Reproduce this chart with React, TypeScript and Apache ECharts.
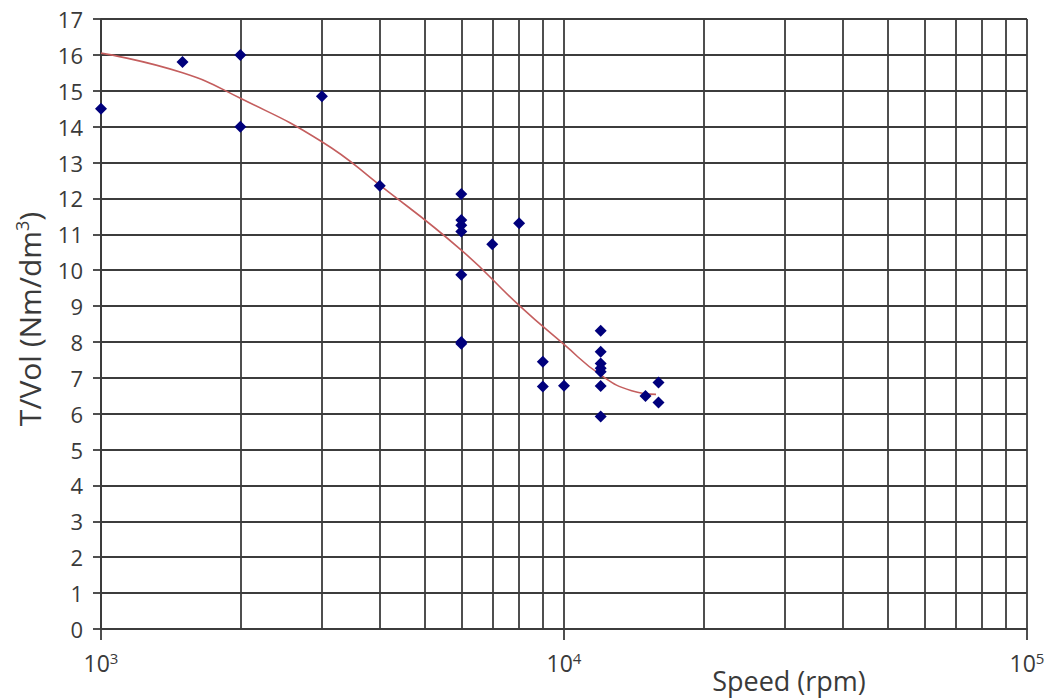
import React, { useEffect, useRef } from "react";
import * as echarts from "echarts";

// Measured points: speed (rpm) and torque per volume (Nm/dm^3)
const pointSpeeds = [
  1000, 1500, 2000, 2000, 3000, 4000,
  6000, 6000, 6000, 6000, 6000, 6000, 6000,
  7000, 8000, 9000, 9000, 10000,
  12000, 12000, 12000, 12000, 12000, 12000, 12000,
  15000, 16000, 16000,
];
const pointTorques = [
  14.5, 15.8, 16.0, 14.0, 14.85, 12.35,
  12.12, 11.4, 11.25, 11.08, 9.87, 8.0, 7.95,
  10.72, 11.31, 7.45, 6.76, 6.78,
  8.31, 7.73, 7.4, 7.27, 7.17, 6.77, 5.92,
  6.49, 6.87, 6.31,
];

// Trend curve
const curveSpeeds = [1000, 1500, 2000, 3000, 4000, 6000, 8000, 10000, 12000, 14000, 15800];
const curveValues = [16.05, 15.5, 14.79, 13.58, 12.37, 10.56, 9.02, 7.93, 7.08, 6.64, 6.54];

// Vertical minor grid lines (log decades)
const minorGridSpeeds = [2000, 3000, 4000, 5000, 6000, 7000, 8000, 9000, 20000, 30000, 40000, 50000, 60000, 70000, 80000, 90000];

const yMin = 0;
const yMax = 17;
const xMin = 1000;
const xMax = 100000;

const xTitle = "Speed (rpm)";
const yTitle = "T/Vol (Nm/dm{sup|3})";

const FONT = "'Open Sans', 'DejaVu Sans', sans-serif";
const TEXT = "#3a3a3a";
const GRID = "#3c3c3c";
const GW = 1.8;

export default function App() {
  const ref = useRef<HTMLDivElement>(null);

  useEffect(() => {
    if (!ref.current) return;
    const chart = echarts.init(ref.current, undefined, { renderer: "svg" });
    chart.setOption({
      animation: false,
      backgroundColor: "#ffffff",
      textStyle: { fontFamily: FONT },
      grid: { left: 101, right: 26, top: 19, bottom: 71, containLabel: false },
      xAxis: {
        type: "log",
        logBase: 10,
        min: xMin,
        max: xMax,
        axisLine: { show: true, lineStyle: { color: GRID, width: GW } },
        axisTick: { show: true, length: 11, lineStyle: { color: GRID, width: GW } },
        splitLine: { show: true, lineStyle: { color: GRID, width: GW } },
        axisLabel: {
          margin: 21,
          formatter: (v: number) => `{b|10}{sup|${Math.round(Math.log10(v))}}`,
          rich: {
            b: { fontSize: 23, color: TEXT, fontFamily: FONT },
            sup: { fontSize: 15, color: TEXT, fontFamily: FONT, verticalAlign: "bottom", padding: [0, 0, 10, 0] },
          },
        },
      },
      yAxis: {
        type: "value",
        min: yMin,
        max: yMax,
        interval: 1,
        axisLine: { show: true, lineStyle: { color: GRID, width: GW } },
        axisTick: { show: true, length: 8, lineStyle: { color: GRID, width: GW } },
        splitLine: { show: true, lineStyle: { color: GRID, width: GW } },
        axisLabel: { fontSize: 22, color: TEXT, margin: 18, fontFamily: FONT },
      },
      graphic: [
        {
          type: "text",
          x: 789,
          y: 680,
          style: {
            text: xTitle,
            fontSize: 27,
            fill: TEXT,
            fontFamily: FONT,
            textAlign: "center",
            textVerticalAlign: "middle",
          },
        },
        {
          type: "text",
          x: 29,
          y: 319,
          rotation: Math.PI / 2,
          style: {
            text: yTitle,
            fontSize: 30,
            fill: TEXT,
            fontFamily: FONT,
            textAlign: "center",
            textVerticalAlign: "middle",
            rich: {
              sup: { fontSize: 18, fill: TEXT, fontFamily: FONT, verticalAlign: "bottom", padding: [0, 0, 15, 0] },
            },
          },
        },
      ],
      series: [
        {
          type: "line",
          data: curveSpeeds.map((s, i) => [s, curveValues[i]]),
          smooth: 0.5,
          showSymbol: false,
          symbol: "none",
          lineStyle: { color: "#c45e5e", width: 1.6 },
          z: 3,
          silent: true,
          markLine: {
            silent: true,
            symbol: ["none", "none"],
            label: { show: false },
            lineStyle: { color: GRID, width: GW, type: "solid" },
            data: minorGridSpeeds.map((s) => ({ xAxis: s })),
            z: 1,
          },
        },
        {
          type: "scatter",
          data: pointSpeeds.map((s, i) => [s, pointTorques[i]]),
          symbol: "diamond",
          symbolSize: 12,
          itemStyle: { color: "#00007c", opacity: 1 },
          z: 4,
        },
      ],
    });
    return () => chart.dispose();
  }, []);

  return (
    <div
      ref={ref}
      style={{ position: "absolute", left: 0, top: 0, width: 1053, height: 700, background: "#fff" }}
    />
  );
}
